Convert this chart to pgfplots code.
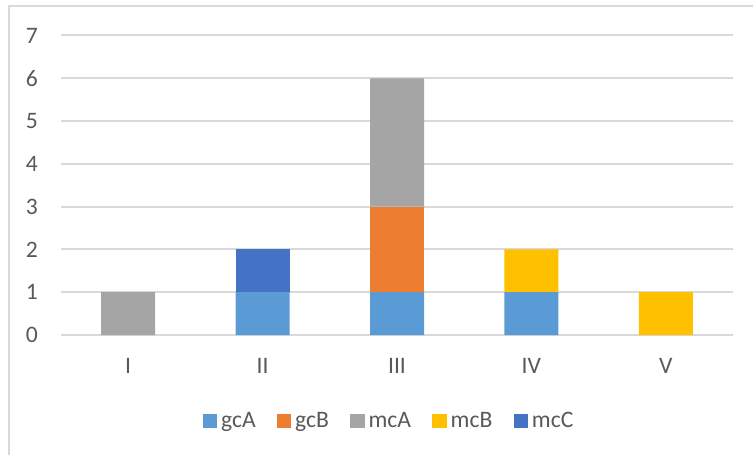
\documentclass[border=0pt]{standalone}
\usepackage{pgfplots}
\pgfplotsset{compat=1.18}
\usepackage{fontspec}
\setmainfont{Carlito}
\definecolor{cgcA}{HTML}{5B9BD5}
\definecolor{cgcB}{HTML}{ED7D31}
\definecolor{cmcA}{HTML}{A5A5A5}
\definecolor{cmcB}{HTML}{FFC000}
\definecolor{cmcC}{HTML}{4472C4}
\definecolor{gridc}{HTML}{D9D9D9}
\definecolor{txtc}{HTML}{595959}
\begin{document}
\begin{tikzpicture}
\begin{axis}[
  at={(0pt,0pt)}, anchor=south west,
  scale only axis, width=336pt, height=149.75pt,
  ybar stacked, bar width=27pt,
  xmin=-0.5, xmax=4.5, ymin=0, ymax=7,
  xtick={0,1,2,3,4}, xticklabels={I,II,III,IV,V},
  ytick={0,1,2,3,4,5,6,7},
  ymajorgrids, grid style={gridc, line width=1pt},
  axis line style={draw=none},
  major tick length=0pt, tick style={draw=none},
  /pgf/number format/assume math mode=true,
  tick label style={font=\fontsize{11.8}{14}\selectfont, text=txtc},
  yticklabel style={xshift=-8pt},
  xticklabel style={yshift=-8pt},
  clip=false,
  legend columns=-1,
  legend style={at={(0.4896,-0.287)}, anchor=center, draw=none, fill=none,
    font=\fontsize{11.8}{14}\selectfont, text=txtc,
    /tikz/every even column/.append style={column sep=8.6pt}},
  legend image code/.code={\fill[#1] (0pt,-3.6pt) rectangle (7.2pt,3.6pt);},
]
\addplot[fill=cgcA, draw=none] coordinates {(0,0) (1,1) (2,1) (3,1) (4,0)};
\addplot[fill=cgcB, draw=none] coordinates {(0,0) (1,0) (2,2) (3,0) (4,0)};
\addplot[fill=cmcA, draw=none] coordinates {(0,1) (1,0) (2,3) (3,0) (4,0)};
\addplot[fill=cmcB, draw=none] coordinates {(0,0) (1,0) (2,0) (3,1) (4,1)};
\addplot[fill=cmcC, draw=none] coordinates {(0,0) (1,1) (2,0) (3,0) (4,0)};
\legend{gcA,gcB,mcA,mcB,mcC}
\end{axis}
\pgfresetboundingbox
\begin{scope}
\clip (-30.5pt,-59.5pt) rectangle (346pt,167.5pt);
\draw[gridc, line width=1pt] (-26pt,-70pt) -- (-26pt,164.5pt) -- (360pt,164.5pt);
\end{scope}
\pgfresetboundingbox
\useasboundingbox (-30.5pt,-59.5pt) rectangle (346pt,167.5pt);
\end{tikzpicture}
\end{document}
